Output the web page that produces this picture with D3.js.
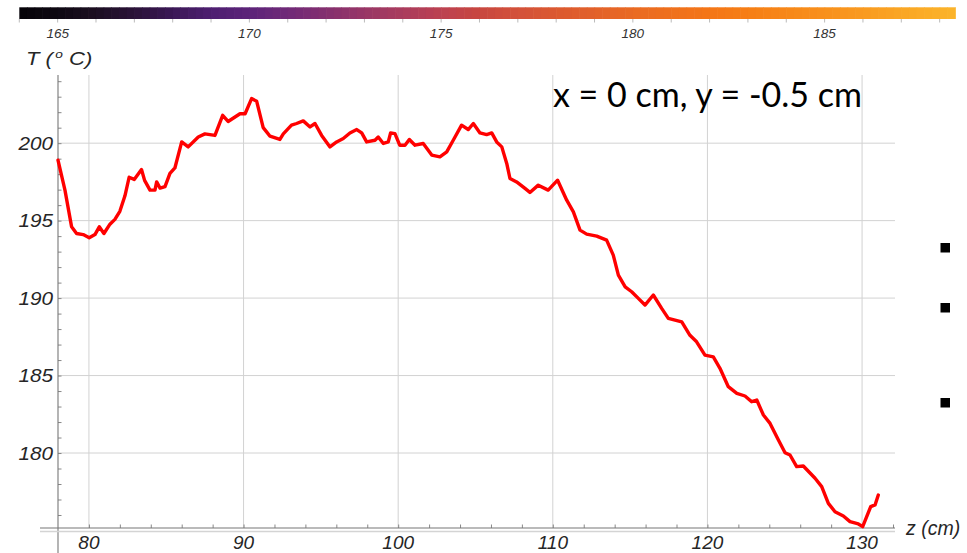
<!DOCTYPE html>
<html><head><meta charset="utf-8">
<script src="https://cdn.jsdelivr.net/npm/d3@7"></script>
<style>body{margin:0;background:#fff;} svg{display:block;}</style>
</head><body>
<svg id="c" width="967" height="553"></svg>
<script>
// ---- data ----
const zVals = [78.0,78.45,78.88,79.2,79.63,80.02,80.39,80.67,80.97,81.36,81.68,82.0,82.33,82.6,82.93,83.4,83.6,83.95,84.27,84.38,84.6,84.92,85.24,85.56,86.0,86.42,87.07,87.5,88.15,88.65,89.0,89.77,90.1,90.52,90.85,91.27,91.49,91.71,92.35,92.57,93.1,93.43,93.86,94.3,94.62,95.05,95.59,96.02,96.45,96.88,97.32,97.64,97.96,98.5,98.71,99.04,99.36,99.51,99.79,100.1,100.44,100.72,101.09,101.62,102.17,102.7,103.14,103.56,104.1,104.53,104.86,105.29,105.72,106.05,106.37,106.7,107.02,107.23,107.66,108.2,108.52,109.06,109.7,110.31,110.9,111.33,111.76,112.19,112.84,113.48,113.91,114.24,114.68,115.1,115.53,115.96,116.5,117.04,117.47,118.34,118.87,119.3,119.84,120.38,120.81,121.35,121.9,122.43,122.86,123.19,123.62,124.05,124.59,125.02,125.34,125.77,126.2,126.96,127.39,127.82,128.25,128.79,129.22,129.76,130.04,130.3,130.56,130.84,131.05];
const tVals = [198.9,196.97,194.6,194.17,194.1,193.9,194.1,194.6,194.17,194.77,195.08,195.6,196.6,197.8,197.66,198.3,197.6,196.97,196.97,197.5,197.1,197.2,198.05,198.4,200.08,199.76,200.4,200.6,200.5,201.8,201.4,201.9,201.9,202.88,202.7,201.0,200.73,200.45,200.24,200.6,201.16,201.27,201.44,201.05,201.27,200.5,199.76,200.08,200.3,200.66,200.88,200.66,200.08,200.19,200.4,199.98,200.08,200.66,200.62,199.87,199.87,200.24,199.87,199.98,199.23,199.12,199.44,200.19,201.16,200.88,201.27,200.66,200.55,200.66,200.08,199.76,198.69,197.72,197.5,197.08,196.82,197.29,196.97,197.61,196.32,195.57,194.39,194.13,194.0,193.74,192.77,191.48,190.73,190.41,189.98,189.55,190.2,189.34,188.69,188.47,187.6,187.18,186.32,186.21,185.47,184.28,183.85,183.68,183.31,183.42,182.45,181.91,180.84,180.02,179.87,179.12,179.16,178.37,177.83,176.75,176.21,175.94,175.57,175.42,175.25,175.9,176.54,176.65,177.29];
const xTicks = [80, 90, 100, 110, 120, 130];
const yTicks = [180, 185, 190, 195, 200];
const cbTicks = [165, 170, 175, 180, 185];
const cbStops = [164,165,166,167,168,169,170,171,172,173,174,175,176,177,178,179,180,181,182,183,184,185,186,187,188,188.4];
const cbColors = ["#050308","#0e0812","#1c0f22","#2a1238","#3b1856","#4e1f71","#5c2379","#702a78","#842f6f","#983666","#aa3c5d","#bc4151","#c8473f","#d3513a","#db5930","#e2612a","#e96a23","#ef701c","#f47617","#f67e15","#f78718","#f8901c","#f99a20","#faa624","#fbb029","#fbb42b"];
const titleText = "x = 0 cm, y = -0.5 cm";

// ---- drawing ----
const svg = d3.select("#c");
const x = d3.scaleLinear().domain([78, 132.13]).range([58, 895]);
const y = d3.scaleLinear().domain([175.16, 204.4]).range([528, 75]);
const italic = "'Liberation Sans', Arial, sans-serif";
const ink = "#262626";

// colorbar
const cb = d3.scaleLinear().domain([164, 188.4]).range([19.3, 955]);
const cbColor = d3.scaleLinear().domain(cbStops).range(cbColors);
const cbSteps = d3.range(164, 188.4, 0.2);
svg.append("g").selectAll("rect").data(cbSteps).join("rect")
  .attr("x", d => cb(d)).attr("y", 7.3)
  .attr("width", d => cb(Math.min(d + 0.2, 188.4)) - cb(d) + 0.6)
  .attr("height", 11.7)
  .attr("fill", d => cbColor(d + 0.1));
svg.append("g").selectAll("line").data(d3.range(164, 189, 1)).join("line")
  .attr("x1", d => cb(d)).attr("x2", d => cb(d))
  .attr("y1", 19).attr("y2", 22.5)
  .attr("stroke", "#aaa").attr("stroke-width", 0.8);
svg.append("g").selectAll("text").data(cbTicks).join("text")
  .attr("x", d => cb(d)).attr("y", 38.3)
  .attr("text-anchor", "middle")
  .attr("font-family", italic).attr("font-style", "italic")
  .attr("font-size", 13.5).attr("fill", "#333")
  .text(d => d);

// grid
svg.append("g").selectAll("line").data(xTicks).join("line")
  .attr("x1", d => x(d)).attr("x2", d => x(d))
  .attr("y1", 75).attr("y2", 528)
  .attr("stroke", "#d2d2d2").attr("stroke-width", 1);
svg.append("g").selectAll("line").data(yTicks).join("line")
  .attr("x1", 58).attr("x2", 895)
  .attr("y1", d => y(d)).attr("y2", d => y(d))
  .attr("stroke", "#d2d2d2").attr("stroke-width", 1);

// y minor ticks (inward)
const yMinor = d3.axisRight(y).tickValues(d3.range(176, 205, 1)).tickSize(3.5).tickFormat("");
const gy = svg.append("g").attr("transform", "translate(58,0)").call(yMinor);
gy.select(".domain").remove();
gy.selectAll("line").attr("stroke", "#888");

// x minor ticks (inward)
const xMinor = d3.axisTop(x).tickValues(d3.range(80, 133, 2)).tickSize(3.5).tickFormat("");
const gx = svg.append("g").attr("transform", "translate(0,528)").call(xMinor);
gx.select(".domain").remove();
gx.selectAll("line").attr("stroke", "#888");

// axis lines
svg.append("line").attr("x1", 58).attr("x2", 58).attr("y1", 75).attr("y2", 553)
  .attr("stroke", "#777").attr("stroke-width", 1.1);
svg.append("line").attr("x1", 40).attr("x2", 895).attr("y1", 528).attr("y2", 528)
  .attr("stroke", "#777").attr("stroke-width", 1.1);
svg.append("line").attr("x1", 40).attr("x2", 895).attr("y1", 531.5).attr("y2", 531.5)
  .attr("stroke", "#d4d4d4").attr("stroke-width", 1.5);

// tick labels (y labels slightly stretched horizontally like the reference)
svg.append("g").selectAll("text").data(yTicks).join("text")
  .attr("transform", d => `translate(53,${y(d) + 6.5}) scale(1.12,1)`)
  .attr("text-anchor", "end")
  .attr("font-family", italic).attr("font-style", "italic")
  .attr("font-size", 18.5).attr("fill", ink)
  .text(d => d);
svg.append("g").selectAll("text").data(xTicks).join("text")
  .attr("x", d => x(d)).attr("y", 549)
  .attr("text-anchor", "middle")
  .attr("font-family", italic).attr("font-style", "italic")
  .attr("font-size", 19).attr("fill", ink)
  .text(d => d);

// axis labels
const tl = svg.append("text")
  .attr("font-family", italic).attr("font-style", "italic")
  .attr("font-size", 18.5).attr("fill", ink);
tl.append("tspan").text("T (");
tl.append("tspan").attr("font-size", 11.5).attr("dy", -7).attr("dx", 2).text("o");
tl.append("tspan").attr("dy", 7).text(" C)");
const tw = tl.node().getComputedTextLength();
tl.attr("transform", `translate(26,65) scale(${64 / tw},1)`);
svg.append("text").attr("x", 906).attr("y", 535)
  .attr("font-family", italic).attr("font-style", "italic")
  .attr("font-size", 19.5).attr("fill", ink)
  .text("z (cm)");

// curve
const pts = zVals.map((z, i) => [z, tVals[i]]);
svg.append("path").datum(pts)
  .attr("fill", "none").attr("stroke", "#ff0000").attr("stroke-width", 3.4)
  .attr("stroke-linejoin", "round").attr("stroke-linecap", "round")
  .attr("d", d3.line().x(d => x(d[0])).y(d => y(d[1])));

// annotation
const tt = svg.append("text").attr("x", 553).attr("y", 107)
  .attr("font-family", "Lato, 'Open Sans', sans-serif")
  .attr("font-size", 30).attr("fill", "#000").text(titleText);
const w = tt.node().getComputedTextLength();
tt.attr("font-size", 30 * 309 / w);

// slide bullets
[248, 308, 403].forEach(cy => {
  svg.append("rect").attr("x", 940.5).attr("y", cy - 5).attr("width", 9.5).attr("height", 9.5).attr("fill", "#000");
});
</script>
</body></html>
